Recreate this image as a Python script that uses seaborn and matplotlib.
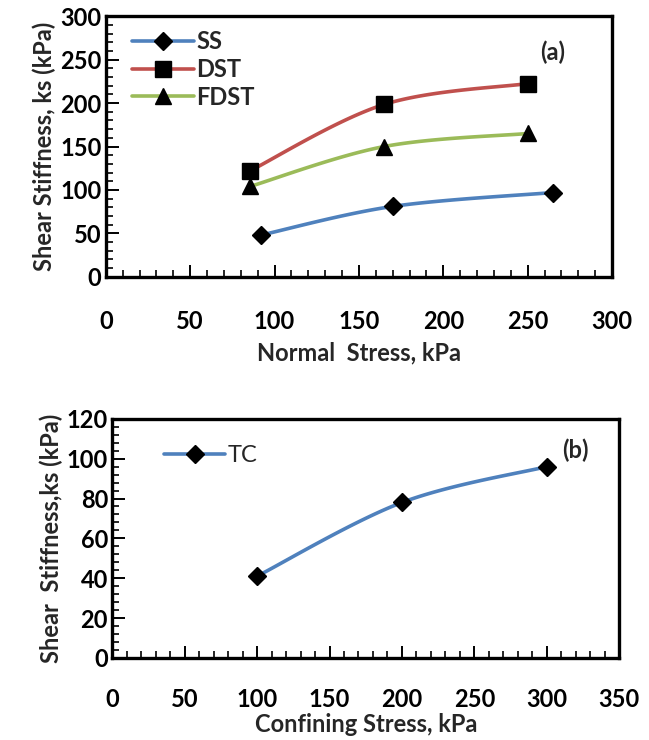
import numpy as np
import pandas as pd
import matplotlib
matplotlib.use("Agg")
import matplotlib.pyplot as plt
from matplotlib.lines import Line2D
from matplotlib.ticker import MultipleLocator
import seaborn as sns

# ---- data ----
ss_x = [92, 170, 265]
ss_y = [48, 81, 97]
dst_x = [85.5, 165, 250]
dst_y = [122, 198.5, 222.5]
fdst_x = [85.5, 165, 250]
fdst_y = [104, 150, 165]
tc_x = [100, 200, 300]
tc_y = [41, 78, 96]

sns.set_theme(style="white")
plt.rcParams['font.family'] = ['Lato', 'DejaVu Sans']
plt.rcParams['font.weight'] = 'bold'

BLUE = "#4F81BD"
RED = "#C0504D"
GREEN = "#9BBB59"
FS = 17


def smooth(x, y, n=40):
    """Catmull-Rom style smoothed line through data points (Excel-like)."""
    x = np.asarray(x, float)
    y = np.asarray(y, float)
    P = np.column_stack([x, y])
    P = np.vstack([P[0], P, P[-1]])
    out = []
    t = np.linspace(0, 1, n)
    for i in range(1, len(P) - 2):
        p0, p1, p2, p3 = P[i - 1], P[i], P[i + 1], P[i + 2]
        c1 = p1 + (p2 - p0) / 6.0
        c2 = p2 - (p3 - p1) / 6.0
        seg = ((1 - t) ** 3)[:, None] * p1 + (3 * (1 - t) ** 2 * t)[:, None] * c1 \
            + (3 * (1 - t) * t ** 2)[:, None] * c2 + (t ** 3)[:, None] * p2
        out.append(seg)
    s = np.vstack(out)
    return s[:, 0], s[:, 1]


def draw(ax, x, y, color, marker, ms):
    sx, sy = smooth(x, y)
    sns.lineplot(x=sx, y=sy, ax=ax, color=color, lw=2.6, sort=False,
                 estimator=None, zorder=2)
    ax.plot(x, y, linestyle='none', marker=marker, markersize=ms,
            color='black', zorder=3)


def style_axes(ax, xmax, xmaj, ymax, ymaj, yminor, pad):
    ax.set_xlim(0, xmax)
    ax.set_ylim(0, ymax)
    ax.xaxis.set_major_locator(MultipleLocator(xmaj))
    ax.xaxis.set_minor_locator(MultipleLocator(10))
    ax.yaxis.set_major_locator(MultipleLocator(ymaj))
    ax.yaxis.set_minor_locator(MultipleLocator(yminor))
    for sp in ax.spines.values():
        sp.set_visible(True)
        sp.set_color('black')
        sp.set_linewidth(2.4)
    ax.tick_params(axis='both', which='both', direction='in', colors='black',
                   labelsize=FS, left=True, bottom=True, top=False, right=False)
    ax.tick_params(axis='both', which='major', length=9, width=1.4)
    ax.tick_params(axis='both', which='minor', length=5, width=1.2)
    ax.tick_params(axis='x', which='major', pad=pad)
    ax.tick_params(axis='y', which='major', pad=3)
    for lab in ax.get_xticklabels() + ax.get_yticklabels():
        lab.set_fontweight('bold')


fig = plt.figure(figsize=(6.49, 7.40), dpi=100)
ax1 = fig.add_axes([0.163, 0.626, 0.780, 0.352])
ax2 = fig.add_axes([0.173, 0.111, 0.781, 0.323])

# ---- top chart ----
draw(ax1, ss_x, ss_y, BLUE, 'D', 9)
draw(ax1, dst_x, dst_y, RED, 's', 11.5)
draw(ax1, fdst_x, fdst_y, GREEN, '^', 11.5)
style_axes(ax1, 300, 50, 300, 50, 10, 24)
ax1.set_xlabel("Normal  Stress, kPa", fontsize=FS, fontweight='bold', labelpad=6)
ax1.set_ylabel("Shear Stiffness, ks (kPa)", fontsize=FS, fontweight='bold', labelpad=3)
ax1.text(265, 258, "(a)", fontsize=FS, fontweight='bold', ha='center', va='center')
h1 = [Line2D([], [], color=BLUE, lw=2.6, marker='D', ms=9, mfc='black', mec='black'),
      Line2D([], [], color=RED, lw=2.6, marker='s', ms=11.5, mfc='black', mec='black'),
      Line2D([], [], color=GREEN, lw=2.6, marker='^', ms=11.5, mfc='black', mec='black')]
leg = ax1.legend(h1, ["SS", "DST", "FDST"], loc='upper left', bbox_to_anchor=(0.02, 1.01),
                 frameon=False, fontsize=FS, handlelength=2.6, labelspacing=0.2,
                 handletextpad=0.1, borderaxespad=0.3)
for t in leg.get_texts():
    t.set_fontweight('bold')

# ---- bottom chart ----
draw(ax2, tc_x, tc_y, BLUE, 'D', 9.5)
style_axes(ax2, 350, 50, 120, 20, 4, 22)
ax2.set_xlabel("Confining Stress, kPa", fontsize=FS, fontweight='bold', labelpad=1)
ax2.set_ylabel("Shear  Stiffness,ks (kPa)", fontsize=FS, fontweight='bold', labelpad=3)
ax2.text(320, 104, "(b)", fontsize=FS, fontweight='bold', ha='center', va='center')
h2 = [Line2D([], [], color=BLUE, lw=2.6, marker='D', ms=9.5, mfc='black', mec='black')]
leg2 = ax2.legend(h2, ["TC"], loc='upper left', bbox_to_anchor=(0.06, 0.98),
                  frameon=False, fontsize=FS, handlelength=2.6, handletextpad=0.1)
for t in leg2.get_texts():
    t.set_fontweight('normal')

fig.savefig("out.png", dpi=100, facecolor='white')
